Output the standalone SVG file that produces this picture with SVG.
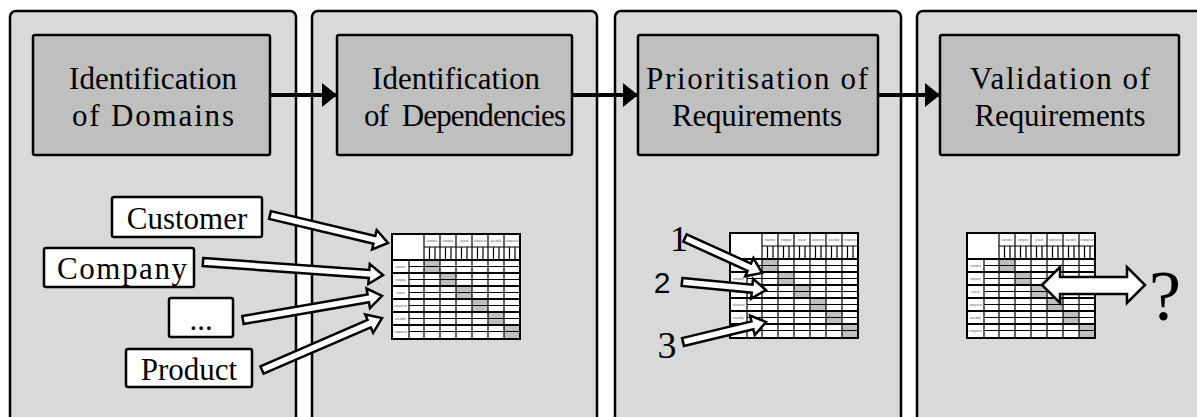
<svg xmlns="http://www.w3.org/2000/svg" xmlns:xlink="http://www.w3.org/1999/xlink" width="1197" height="417" viewBox="0 0 1197 417">
<style>
.panel{fill:#d9d9d9;stroke:#000;stroke-width:2.5}
.step{fill:#bfbfbf;stroke:#000;stroke-width:2.5}
.lbl{fill:#fff;stroke:#000;stroke-width:2.5}
.t{font-family:"Liberation Serif","Times New Roman",serif;font-size:31px;fill:#000;text-anchor:middle}
.blk{fill:#fff;stroke:#000;stroke-width:2.5;stroke-linejoin:miter}
.flow{stroke:#000;stroke-width:4;fill:none}
.mt{font-family:"Liberation Serif",serif;font-size:3px;fill:#555;text-anchor:middle}
</style>
<defs>
<marker id="ah" markerUnits="userSpaceOnUse" markerWidth="15" markerHeight="24" refX="15" refY="12" orient="auto">
<path d="M0,0 L15,12 L0,24 Z" fill="#000"/>
</marker>
<g id="matrix">
<rect x="0" y="0" width="128" height="105" fill="#fff"/>
<rect x="32" y="26" width="16" height="13" fill="#bfbfbf"/>
<rect x="48" y="39" width="16" height="13" fill="#bfbfbf"/>
<rect x="64" y="52" width="16" height="13" fill="#bfbfbf"/>
<rect x="80" y="65" width="16" height="13" fill="#bfbfbf"/>
<rect x="96" y="78" width="16" height="13" fill="#bfbfbf"/>
<rect x="112" y="91" width="16" height="14" fill="#bfbfbf"/>
<g stroke="#000" fill="none">
<path stroke-width="1" d="M32,13H128 M17,32.5H128 M17,45.5H128 M17,58.5H128 M17,71.5H128 M17,84.5H128 M17,97.5H128"/>
<path stroke-width="1.2" d="M37.5,13V26 M43,13V26 M53.5,13V26 M59,13V26 M69.5,13V26 M75,13V26 M85.5,13V26 M91,13V26 M101.5,13V26 M107,13V26 M117.5,13V26 M123,13V26"/>
<path stroke-width="1.8" d="M0,26H128 M0,39H128 M0,52H128 M0,65H128 M0,78H128 M0,91H128"/>
<path stroke-width="1.2" d="M17,26V105 M32,0V105 M48,0V105 M64,0V105 M80,0V105 M96,0V105 M112,0V105"/>
<rect x="0" y="0" width="128" height="105" stroke-width="2"/>
</g>
<text class="mt" x="40" y="8">customer</text>
<text class="mt" x="56" y="8">company</text>
<text class="mt" x="72" y="8">system</text>
<text class="mt" x="88" y="8">subsystem</text>
<text class="mt" x="104" y="8">assembly</text>
<text class="mt" x="120" y="8">component</text>
<text class="mt" x="8.5" y="34">customer</text>
<text class="mt" x="8.5" y="47">company</text>
<text class="mt" x="8.5" y="60">system</text>
<text class="mt" x="8.5" y="73">subsystem</text>
<text class="mt" x="8.5" y="86">assembly</text>
<text class="mt" x="8.5" y="99">component</text>
</g>
</defs>

<g id="panel1"><rect class="panel" x="10" y="11" width="286" height="420" rx="6"/></g>
<g id="panel2"><rect class="panel" x="312" y="11" width="285" height="420" rx="6"/></g>
<g id="panel3"><rect class="panel" x="615" y="11" width="286" height="420" rx="6"/></g>
<g id="panel4"><rect class="panel" x="917" y="11" width="295" height="420" rx="6"/></g>

<g id="connectors">
<line class="flow" x1="270" y1="95" x2="337" y2="95" marker-end="url(#ah)"/>
<line class="flow" x1="572" y1="95" x2="638" y2="95" marker-end="url(#ah)"/>
<line class="flow" x1="878" y1="95" x2="940" y2="95" marker-end="url(#ah)"/>
</g>

<g id="step1"><rect class="step" x="33" y="35" width="237" height="120" rx="2"/>
<text class="t" x="153" y="89" textLength="168" lengthAdjust="spacing">Identification</text><text class="t" x="153" y="126" textLength="162" lengthAdjust="spacing">of Domains</text></g>
<g id="step2"><rect class="step" x="337" y="35" width="235" height="120" rx="2"/>
<text class="t" x="456" y="89" textLength="168" lengthAdjust="spacing">Identification</text><text class="t" x="465" y="126" xml:space="preserve" textLength="202" lengthAdjust="spacing">of  Dependencies</text></g>
<g id="step3"><rect class="step" x="638" y="35" width="240" height="120" rx="2"/>
<text class="t" x="757" y="89" textLength="222" lengthAdjust="spacing">Prioritisation of</text><text class="t" x="757" y="126" textLength="170" lengthAdjust="spacing">Requirements</text></g>
<g id="step4"><rect class="step" x="940" y="35" width="239" height="120" rx="2"/>
<text class="t" x="1060" y="89" textLength="180" lengthAdjust="spacing">Validation of</text><text class="t" x="1060" y="126" textLength="171" lengthAdjust="spacing">Requirements</text></g>

<g id="matrix1"><use xlink:href="#matrix" href="#matrix" x="392" y="234"/></g>
<g id="matrix2"><use xlink:href="#matrix" href="#matrix" x="730" y="233"/></g>
<g id="matrix3"><use xlink:href="#matrix" href="#matrix" x="967" y="233"/></g>

<g id="customer"><rect class="lbl" x="112" y="197" width="150" height="40" rx="2"/><text class="t" x="187" y="229">Customer</text></g>
<g id="company"><rect class="lbl" x="44" y="248" width="150" height="39" rx="2"/><text class="t" x="122" y="279" textLength="130" lengthAdjust="spacing">Company</text></g>
<g id="dots"><rect class="lbl" x="169" y="298" width="64" height="39" rx="2"/><text class="t" x="201" y="330">...</text></g>
<g id="product"><rect class="lbl" x="126" y="349" width="126" height="38" rx="2"/><text class="t" x="189" y="380">Product</text></g>

<g id="domain-arrows">
<polygon class="blk" transform="translate(270,215) rotate(13.35)" points="0,-4 107.3,-4 107.3,-10 121.3,0 107.3,10 107.3,4 0,4"/>
<polygon class="blk" transform="translate(203,262) rotate(4.13)" points="0,-4 166.5,-4 166.5,-10 180.5,0 166.5,10 166.5,4 0,4"/>
<polygon class="blk" transform="translate(243,320) rotate(-9.8)" points="0,-4 127.1,-4 127.1,-10 141.1,0 127.1,10 127.1,4 0,4"/>
<polygon class="blk" transform="translate(262,370) rotate(-23.4)" points="0,-4 116.8,-4 116.8,-10 130.8,0 116.8,10 116.8,4 0,4"/>
</g>

<g id="priority">
<text x="679" y="251" style="font-family:'Liberation Serif',serif;font-size:36px;text-anchor:middle">1</text>
<text x="662" y="293" style="font-family:'Liberation Sans',Arial,sans-serif;font-size:30px;text-anchor:middle">2</text>
<text x="667" y="358" style="font-family:'Liberation Serif',serif;font-size:38px;text-anchor:middle">3</text>
<polygon class="blk" transform="translate(685,238) rotate(24.4)" points="0,-4 70.6,-4 70.6,-10 84.6,0 70.6,10 70.6,4 0,4"/>
<polygon class="blk" transform="translate(682,282) rotate(5.44)" points="0,-4 70.4,-4 70.4,-10 84.4,0 70.4,10 70.4,4 0,4"/>
<polygon class="blk" transform="translate(683,342) rotate(-13.55)" points="0,-4 71.4,-4 71.4,-10 85.4,0 71.4,10 71.4,4 0,4"/>
</g>

<g id="validation">
<polygon class="blk" points="1042,285 1060,267 1060,277 1127,277 1127,267 1145,285 1127,303 1127,294 1060,294 1060,303"/>
<text x="1165" y="320" style="font-family:'Liberation Serif',serif;font-size:72px;text-anchor:middle">?</text>
</g>
</svg>
